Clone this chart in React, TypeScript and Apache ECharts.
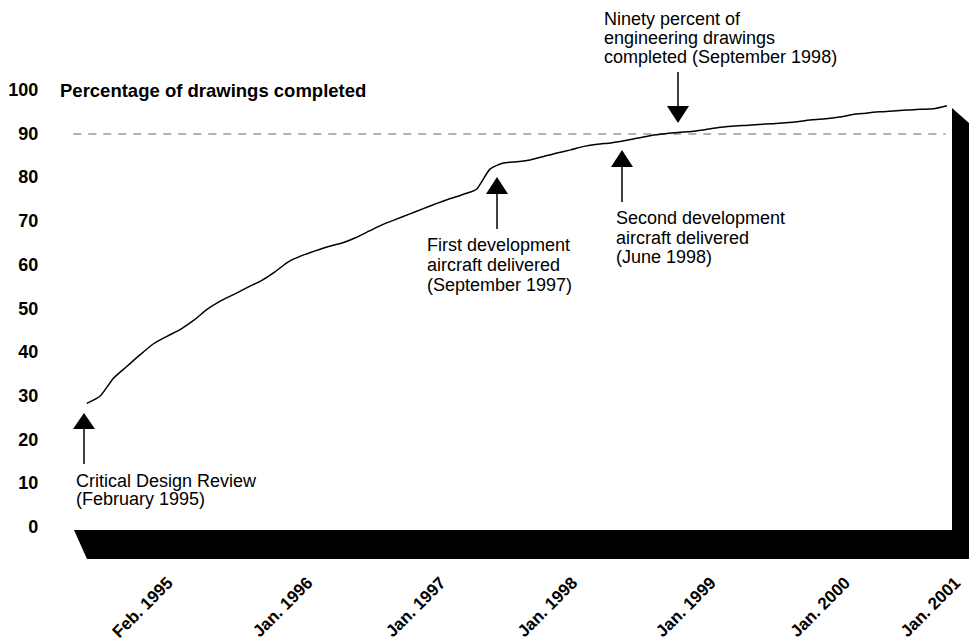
import React, { useEffect, useRef } from "react";
import * as echarts from "echarts";

// Percentage of drawings completed, monthly from Feb. 1995 (month 1 = Feb. 1995)
const completion = [
  28.3, 30.0, 34.1, 36.8, 39.5, 42.0, 43.7, 45.3, 47.4, 49.9,
  51.8, 53.3, 54.9, 56.4, 58.4, 60.7, 62.1, 63.2, 64.2, 65.0,
  66.2, 67.7, 69.2, 70.4, 71.6, 72.8, 74.0, 75.1, 76.1, 77.3,
  81.9, 83.3, 83.6, 84.0, 84.8, 85.6, 86.3, 87.1, 87.6, 87.9,
  88.4, 89.0, 89.6, 90.0, 90.3, 90.5, 90.9, 91.4, 91.7, 91.9,
  92.1, 92.3, 92.5, 92.8, 93.2, 93.4, 93.8, 94.4, 94.7, 95.0,
  95.2, 95.4, 95.6, 95.7, 96.4,
];

const xLabelTexts = ["Feb. 1995", "Jan. 1996", "Jan. 1997", "Jan. 1998", "Jan. 1999", "Jan. 2000", "Jan. 2001"];
const xLabelPositions = [7.2, 17.6, 27.5, 37.3, 47.6, 57.6, 65.8];
const goalPercent = 90;
const yTitle = "Percentage of drawings completed";

const FONT = "'Liberation Sans', Arial, Helvetica, sans-serif";

export default function App() {
  const ref = useRef<HTMLDivElement>(null);
  useEffect(() => {
    document.body.style.margin = "0";
    const chart = echarts.init(ref.current!, null, { renderer: "svg" });
    const data = completion.map((v, i) => [i + 1, v]);

    const txt = (x: number, y: number, s: string, lineHeight = 20, bold = false, size = 18) => ({
      type: "text",
      x,
      y,
      style: {
        text: s,
        fontSize: size,
        lineHeight,
        fontWeight: bold ? "bold" : "normal",
        fontFamily: FONT,
        fill: "#000",
        textAlign: "left",
        textVerticalAlign: "middle",
        align: "left",
        verticalAlign: "middle",
      },
    });
    const arrowUp = (x: number, tip: number, base: number, end: number) => [
      { type: "line", shape: { x1: x, y1: base, x2: x, y2: end }, style: { stroke: "#000", lineWidth: 1.5 } },
      { type: "polygon", shape: { points: [[x, tip], [x - 11, base], [x + 11, base]] }, style: { fill: "#000" } },
    ];
    const arrowDown = (x: number, start: number, base: number, tip: number) => [
      { type: "line", shape: { x1: x, y1: start, x2: x, y2: base }, style: { stroke: "#000", lineWidth: 1.5 } },
      { type: "polygon", shape: { points: [[x, tip], [x - 11, base], [x + 11, base]] }, style: { fill: "#000" } },
    ];

    chart.setOption({
      animation: false,
      backgroundColor: "#fff",
      grid: { left: 73.3, right: 16.7, top: 90, bottom: 113 },
      xAxis: {
        type: "value",
        min: 0,
        max: 66,
        axisLine: { show: false },
        axisTick: { show: false },
        splitLine: { show: false },
        axisLabel: {
          customValues: xLabelPositions,
          formatter: (v: number) => {
            const i = xLabelPositions.findIndex((p) => Math.abs(p - v) < 0.01);
            return i >= 0 ? xLabelTexts[i] : "";
          },
          rotate: 45,
          margin: 53,
          fontSize: 17,
          fontWeight: "bold",
          fontFamily: FONT,
          color: "#000",
        },
      },
      yAxis: {
        type: "value",
        min: 0,
        max: 100,
        interval: 10,
        axisLine: { show: false },
        axisTick: { show: false },
        splitLine: { show: false },
        axisLabel: { fontSize: 18, fontWeight: "bold", fontFamily: FONT, color: "#000", margin: 35 },
      },
      series: [
        {
          type: "line",
          data,
          symbol: "none",
          showSymbol: false,
          smooth: 0.2,
          lineStyle: { color: "#000", width: 1.5 },
          z: 5,
          markLine: {
            silent: true,
            symbol: ["none", "none"],
            label: { show: false },
            lineStyle: { color: "#999", type: [8, 7], width: 1.5 },
            data: [[{ coord: [0, goalPercent] }, { coord: [64.9, goalPercent] }]],
          },
        },
      ],
      graphic: [
        // 3D floor and right wall
        {
          type: "polygon",
          shape: { points: [[74, 530], [952, 530], [952, 108], [969, 123], [969, 559], [87, 559]] },
          style: { fill: "#000" },
          z: 1,
        },
        txt(60, 90, yTitle, 20, true, 18.5),
        ...arrowUp(84, 413, 429, 464),
        txt(76, 489.5, "Critical Design Review\n(February 1995)", 18),
        ...arrowUp(497, 177, 194, 229),
        txt(427, 265, "First development\naircraft delivered\n(September 1997)", 20),
        ...arrowUp(622, 150, 167, 202),
        txt(616, 237.5, "Second development\naircraft delivered\n(June 1998)", 19.5),
        ...arrowDown(678, 72, 106, 123),
        txt(604, 38, "Ninety percent of\nengineering drawings\ncompleted (September 1998)", 19),
      ],
    });
    return () => chart.dispose();
  }, []);
  return <div ref={ref} style={{ width: 977, height: 643 }} />;
}
